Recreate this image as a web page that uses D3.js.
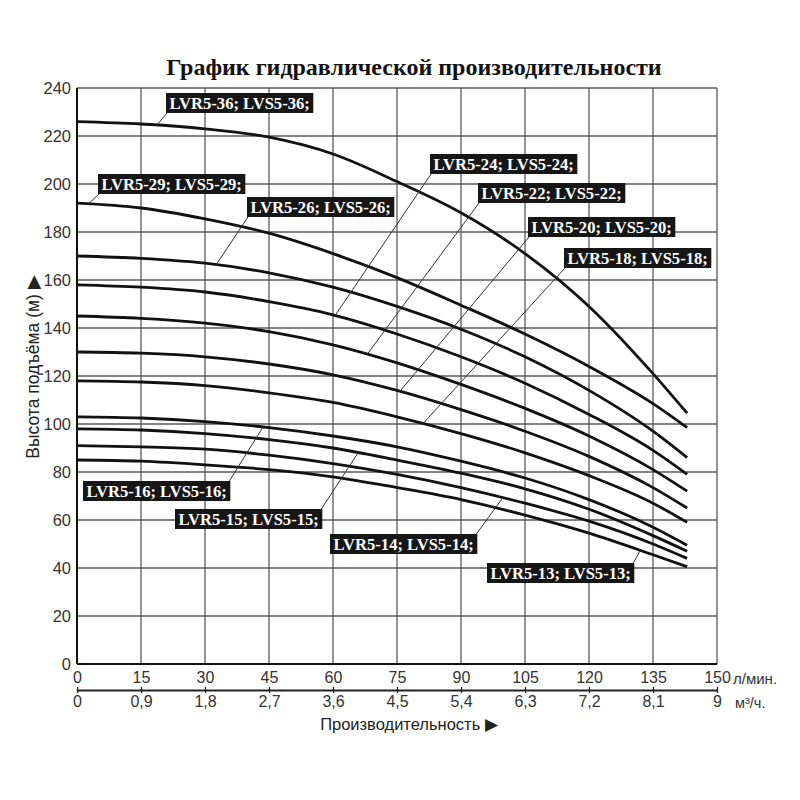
<!DOCTYPE html>
<html>
<head>
<meta charset="utf-8">
<script src="https://cdn.jsdelivr.net/npm/d3@7"></script>
<style>
  html, body { margin: 0; padding: 0; background: #fff; }
  svg { display: block; }
</style>
</head>
<body>
<div id="chart"></div>
<script>
const flow = [0, 15, 30, 45, 60, 75, 90, 105, 120, 135, 143]

// head (m) per pump model
const head36 = [226, 225, 223, 219.5, 212.5, 201, 188, 171, 149, 121, 104.5]
const head29 = [192, 190, 185.5, 179.5, 171, 161, 149.5, 137.5, 124, 108.5, 98.5]
const head26 = [170, 169, 167, 163, 157, 149, 139.5, 128, 114, 97, 86]
const head24 = [158, 157, 155, 151, 145.5, 137.5, 128, 117, 104, 89, 79]
const head22 = [145, 144, 142, 138.5, 133, 125.5, 116.5, 106.5, 95, 81, 72]
const head20 = [130, 129.5, 128, 125, 120.5, 114, 106, 97, 86.5, 73.5, 65]
const head18 = [118, 117.5, 116, 113, 109, 103, 96, 88, 78.5, 67, 59]
const head16 = [103, 102.5, 101, 98.5, 95, 90.5, 84.5, 77.5, 68.5, 57, 49.5]
const head15 = [98, 97.5, 96, 93.5, 90, 85, 79.5, 73, 64.5, 53.5, 47]
const head14 = [91, 90.5, 89.5, 87, 83.5, 79, 73.5, 67, 59.5, 50, 44]
const head13 = [85, 84.5, 83, 81, 78, 73.5, 68.5, 62, 54.5, 45.5, 40.5]

const models = ["36", "29", "26", "24", "22", "20", "18", "16", "15", "14", "13"]
const heads = [head36, head29, head26, head24, head22, head20, head18, head16, head15, head14, head13]

const flowTicks = [0, 15, 30, 45, 60, 75, 90, 105, 120, 135, 150]
const cubicTicks = [0, 0.9, 1.8, 2.7, 3.6, 4.5, 5.4, 6.3, 7.2, 8.1, 9]
const headTicks = [0, 20, 40, 60, 80, 100, 120, 140, 160, 180, 200, 220, 240]

// where each label box sits and the flow at which its leader meets the curve
// corner: "bl" = leader from bottom-left of box, "tr" = from top-right
const labelLayout = [
  { model: "36", left: 166, top: 93, q: 18.7, corner: "bl" },
  { model: "29", left: 98, top: 174, q: 2.6, corner: "bl" },
  { model: "26", left: 247, top: 197, q: 32.6, corner: "bl" },
  { model: "24", left: 430, top: 154, q: 60.5, corner: "bl" },
  { model: "22", left: 478, top: 183, q: 68, corner: "bl" },
  { model: "20", left: 528, top: 217, q: 75.7, corner: "bl" },
  { model: "18", left: 564, top: 248, q: 81.1, corner: "bl" },
  { model: "16", left: 83, top: 481, q: 43.6, corner: "tr" },
  { model: "15", left: 175, top: 509, q: 65.9, corner: "tr" },
  { model: "14", left: 330, top: 534, q: 99.8, corner: "tr" },
  { model: "13", left: 487, top: 563, q: 132, corner: "tr" },
]

const width = 800
const height = 800
const margin = { top: 88, right: 83, bottom: 136, left: 77 }
const plotW = width - margin.left - margin.right
const plotH = height - margin.top - margin.bottom

const x = d3.scaleLinear().domain([0, 150]).range([margin.left, margin.left + plotW])
const x2 = d3.scaleLinear().domain([0, 9]).range([margin.left, margin.left + plotW])
const y = d3.scaleLinear().domain([0, 240]).range([margin.top + plotH, margin.top])

const sans = "'Liberation Sans', Arial, sans-serif"
const serif = "'Liberation Serif', 'Times New Roman', serif"

const svg = d3.select("#chart")
  .append("svg")
  .attr("width", width)
  .attr("height", height)

// title
svg.append("text")
  .attr("x", 414)
  .attr("y", 75)
  .attr("text-anchor", "middle")
  .style("font-family", serif)
  .style("font-weight", "bold")
  .style("font-size", "24px")
  .attr("fill", "#111")
  .text("График гидравлической производительности")

// grid
const grid = svg.append("g").attr("class", "grid")
grid.selectAll("line.v")
  .data(flowTicks)
  .join("line")
  .attr("class", "v")
  .attr("x1", d => x(d)).attr("x2", d => x(d))
  .attr("y1", y(240)).attr("y2", y(0))
grid.selectAll("line.h")
  .data(headTicks)
  .join("line")
  .attr("class", "h")
  .attr("x1", x(0)).attr("x2", x(150))
  .attr("y1", d => y(d)).attr("y2", d => y(d))
grid.selectAll("line")
  .attr("stroke", "#5a5a5a")
  .attr("stroke-width", 1.3)

// left and bottom axis lines
svg.append("line")
  .attr("x1", x(0)).attr("x2", x(0))
  .attr("y1", y(240)).attr("y2", y(0))
  .attr("stroke", "#111").attr("stroke-width", 2)
svg.append("line")
  .attr("x1", x(0)).attr("x2", x(150))
  .attr("y1", y(0)).attr("y2", y(0))
  .attr("stroke", "#111").attr("stroke-width", 2.2)

// y tick labels
const yAxis = svg.append("g")
  .attr("transform", `translate(${x(0)},0)`)
  .call(d3.axisLeft(y).tickValues(headTicks).tickSize(0).tickPadding(6))
yAxis.select(".domain").remove()
yAxis.selectAll("text")
  .style("font-family", sans)
  .style("font-size", "16.5px")
  .attr("fill", "#333")

// x tick labels, l/min
const xAxis = svg.append("g")
  .attr("transform", `translate(0,${y(0)})`)
  .call(d3.axisBottom(x).tickValues(flowTicks).tickSize(0).tickPadding(8))
xAxis.select(".domain").remove()
xAxis.selectAll("text")
  .style("font-family", sans)
  .style("font-size", "16px")
  .attr("fill", "#333")

svg.append("text")
  .attr("x", x(150) + 16)
  .attr("y", y(0) + 20)
  .style("font-family", sans)
  .style("font-size", "15px")
  .attr("fill", "#333")
  .text("л/мин.")

// second axis, m3/h
const axis2Y = y(0) + 26
const xAxis2 = svg.append("g")
  .attr("transform", `translate(0,${axis2Y})`)
  .call(d3.axisBottom(x2).tickValues(cubicTicks).tickSizeInner(3).tickSizeOuter(0).tickPadding(3)
    .tickFormat(d => String(d).replace(".", ",")))
xAxis2.select(".domain").attr("stroke", "#222").attr("stroke-width", 2.2)
xAxis2.selectAll(".tick line").attr("y1", -3).attr("stroke", "#222").attr("stroke-width", 1.3)
xAxis2.selectAll("text")
  .style("font-family", sans)
  .style("font-size", "16px")
  .attr("fill", "#333")

svg.append("text")
  .attr("x", x(150) + 18)
  .attr("y", axis2Y + 18)
  .style("font-family", sans)
  .style("font-size", "14.5px")
  .attr("fill", "#333")
  .text("м³/ч.")

// axis titles
svg.append("text")
  .attr("x", 409)
  .attr("y", axis2Y + 40)
  .attr("text-anchor", "middle")
  .style("font-family", sans)
  .style("font-size", "16.5px")
  .attr("fill", "#222")
  .text("Производительность ▶")

svg.append("text")
  .attr("transform", "translate(39,367) rotate(-90)")
  .attr("text-anchor", "middle")
  .style("font-family", sans)
  .style("font-size", "17.5px")
  .attr("fill", "#222")
  .text("Высота подъёма (м) ▶")

// curves
const line = d3.line()
  .x(d => x(d[0]))
  .y(d => y(d[1]))
  .curve(d3.curveMonotoneX)

svg.append("g")
  .selectAll("path")
  .data(heads)
  .join("path")
  .attr("d", h => line(flow.map((q, i) => [q, h[i]])))
  .attr("fill", "none")
  .attr("stroke", "#111")
  .attr("stroke-width", 2.8)

// head on a curve at a given flow, by linear interpolation of the read points
function headAt(h, q) {
  const i = Math.max(1, d3.bisectLeft(flow, q))
  const t = (q - flow[i - 1]) / (flow[i] - flow[i - 1])
  return h[i - 1] + t * (h[i] - h[i - 1])
}

// labels
const labels = svg.append("g")
labelLayout.forEach(l => {
  const h = heads[models.indexOf(l.model)]
  const g = labels.append("g")
  const leader = g.append("line")
    .attr("stroke", "#333")
    .attr("stroke-width", 1)
  const rect = g.append("rect").attr("fill", "#161616")
  const text = g.append("text")
    .attr("x", l.left + 3.5)
    .attr("y", l.top + 15.5)
    .style("font-family", serif)
    .style("font-weight", "bold")
    .style("font-size", "16.6px")
    .attr("fill", "#fff")
    .text(`LVR5-${l.model}; LVS5-${l.model};`)
  const w = text.node().getComputedTextLength() + 7
  const bh = 20
  rect.attr("x", l.left).attr("y", l.top).attr("width", w).attr("height", bh)
  const sx = l.corner === "bl" ? l.left + 1 : l.left + w - 1
  const sy = l.corner === "bl" ? l.top + bh : l.top
  leader
    .attr("x1", sx).attr("y1", sy)
    .attr("x2", x(l.q)).attr("y2", y(headAt(h, l.q)))
})
</script>
</body>
</html>
